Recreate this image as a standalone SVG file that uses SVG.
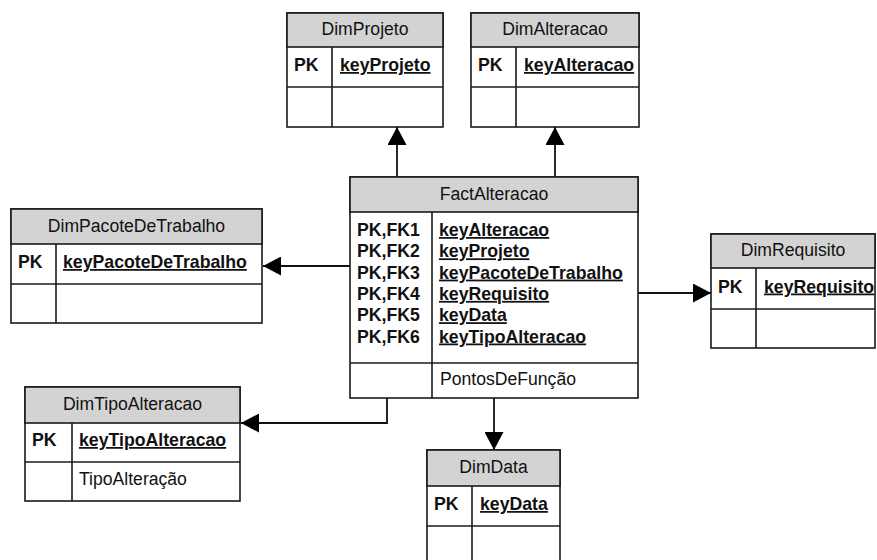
<svg xmlns="http://www.w3.org/2000/svg" width="877" height="560" viewBox="0 0 877 560">
  <style>
    .box { fill: #ffffff; stroke: #1a1a1a; stroke-width: 1.6; }
    .head { fill: #d3d3d3; stroke: #1a1a1a; stroke-width: 1.6; }
    .sep { stroke: #1a1a1a; stroke-width: 1.6; fill: none; }
    .title { font-family: "Liberation Sans", Arial, sans-serif; font-size: 17.6px; fill: #111; text-anchor: middle; }
    .pk { font-family: "Liberation Sans", Arial, sans-serif; font-size: 17.7px; font-weight: bold; fill: #111; }
    .key { font-family: "Liberation Sans", Arial, sans-serif; font-size: 17.7px; font-weight: bold; fill: #111; text-decoration: underline; }
    .attr { font-family: "Liberation Sans", Arial, sans-serif; font-size: 17.6px; fill: #111; }
    .conn { stroke: #111; stroke-width: 1.8; fill: none; marker-end: url(#arrow); }
  </style>
  <defs>
    <marker id="arrow" markerUnits="userSpaceOnUse" markerWidth="18" markerHeight="19" viewBox="0 0 18 19" refX="18" refY="9.5" orient="auto">
      <path d="M0,0 L18,9.5 L0,19 Z" fill="#000"/>
    </marker>
  </defs>

  <!-- relationships from the fact table to each dimension -->
  <g id="connectors">
    <path class="conn" d="M397,177 V127"/>
    <path class="conn" d="M555,177 V127"/>
    <path class="conn" d="M350,266 H263"/>
    <path class="conn" d="M638,293 H711"/>
    <path class="conn" d="M387,398 V423 H241"/>
    <path class="conn" d="M494,398 V450"/>
  </g>

  <g id="DimProjeto">
    <rect class="box" x="287" y="13" width="156" height="114"/>
    <rect class="head" x="287" y="13" width="156" height="34"/>
    <line class="sep" x1="287" y1="87" x2="443" y2="87"/>
    <line class="sep" x1="332" y1="47" x2="332" y2="127"/>
    <text class="title" x="365" y="35">DimProjeto</text>
    <text class="pk" x="294" y="71">PK</text>
    <text class="key" x="340" y="71">keyProjeto</text>
  </g>

  <g id="DimAlteracao">
    <rect class="box" x="471" y="13" width="168" height="114"/>
    <rect class="head" x="471" y="13" width="168" height="34"/>
    <line class="sep" x1="471" y1="87" x2="639" y2="87"/>
    <line class="sep" x1="516" y1="47" x2="516" y2="127"/>
    <text class="title" x="555" y="35">DimAlteracao</text>
    <text class="pk" x="478" y="71">PK</text>
    <text class="key" x="524" y="71">keyAlteracao</text>
  </g>

  <g id="FactAlteracao">
    <rect class="box" x="350" y="177" width="288" height="221"/>
    <rect class="head" x="350" y="177" width="288" height="35"/>
    <line class="sep" x1="350" y1="363" x2="638" y2="363"/>
    <line class="sep" x1="432" y1="212" x2="432" y2="398"/>
    <text class="title" x="494" y="200">FactAlteracao</text>
    <text class="pk" x="357" y="236">PK,FK1</text>
    <text class="pk" x="357" y="257.3">PK,FK2</text>
    <text class="pk" x="357" y="278.6">PK,FK3</text>
    <text class="pk" x="357" y="299.9">PK,FK4</text>
    <text class="pk" x="357" y="321.2">PK,FK5</text>
    <text class="pk" x="357" y="342.5">PK,FK6</text>
    <text class="key" x="439" y="236">keyAlteracao</text>
    <text class="key" x="439" y="257.3">keyProjeto</text>
    <text class="key" x="439" y="278.6">keyPacoteDeTrabalho</text>
    <text class="key" x="439" y="299.9">keyRequisito</text>
    <text class="key" x="439" y="321.2">keyData</text>
    <text class="key" x="439" y="342.5">keyTipoAlteracao</text>
    <text class="attr" x="440" y="385">PontosDeFunção</text>
  </g>

  <g id="DimPacoteDeTrabalho">
    <rect class="box" x="11" y="209" width="251" height="114"/>
    <rect class="head" x="11" y="209" width="251" height="35"/>
    <line class="sep" x1="11" y1="284" x2="262" y2="284"/>
    <line class="sep" x1="56" y1="244" x2="56" y2="323"/>
    <text class="title" x="136.5" y="231.5">DimPacoteDeTrabalho</text>
    <text class="pk" x="18" y="268">PK</text>
    <text class="key" x="63" y="268">keyPacoteDeTrabalho</text>
  </g>

  <g id="DimRequisito">
    <rect class="box" x="711" y="234" width="164" height="114"/>
    <rect class="head" x="711" y="234" width="164" height="34"/>
    <line class="sep" x1="711" y1="309" x2="875" y2="309"/>
    <line class="sep" x1="756" y1="268" x2="756" y2="348"/>
    <text class="title" x="793" y="256">DimRequisito</text>
    <text class="pk" x="718" y="292.5">PK</text>
    <text class="key" x="764" y="292.5">keyRequisito</text>
  </g>

  <g id="DimTipoAlteracao">
    <rect class="box" x="25" y="387" width="215" height="114"/>
    <rect class="head" x="25" y="387" width="215" height="36"/>
    <line class="sep" x1="25" y1="462" x2="240" y2="462"/>
    <line class="sep" x1="72" y1="423" x2="72" y2="501"/>
    <text class="title" x="132.5" y="410">DimTipoAlteracao</text>
    <text class="pk" x="32" y="446">PK</text>
    <text class="key" x="79" y="446">keyTipoAlteracao</text>
    <text class="attr" x="79" y="485">TipoAlteração</text>
  </g>

  <g id="DimData">
    <rect class="box" x="427" y="450" width="133" height="116"/>
    <rect class="head" x="427" y="450" width="133" height="36"/>
    <line class="sep" x1="427" y1="526" x2="560" y2="526"/>
    <line class="sep" x1="472" y1="486" x2="472" y2="566"/>
    <text class="title" x="493.5" y="473">DimData</text>
    <text class="pk" x="434" y="510">PK</text>
    <text class="key" x="480" y="510">keyData</text>
  </g>
</svg>
